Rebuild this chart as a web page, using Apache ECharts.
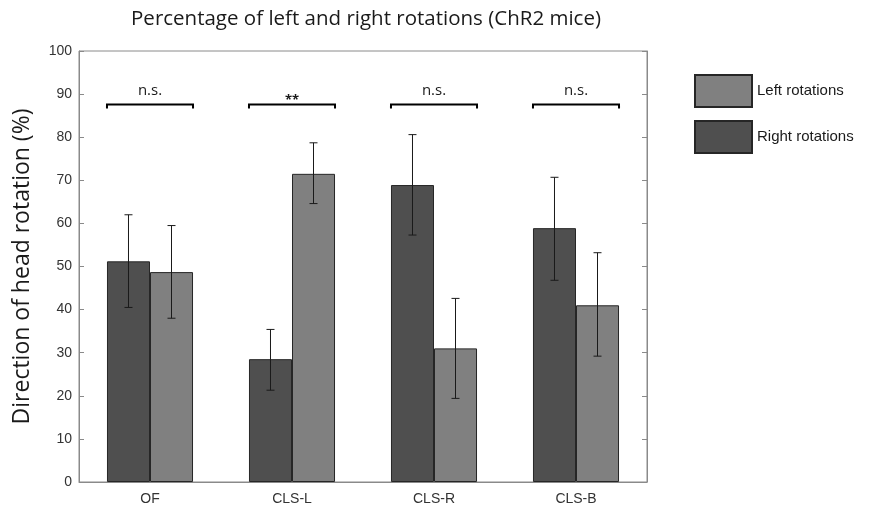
<!DOCTYPE html>
<html>
<head>
<meta charset="utf-8">
<script src="https://cdn.jsdelivr.net/npm/echarts@6/dist/echarts.min.js"></script>
<style>
  html, body { margin: 0; padding: 0; background: #fff; }
  #chart { width: 869px; height: 506px; }
</style>
</head>
<body>
<div id="chart"></div>
<script>
var categories = ['OF', 'CLS-L', 'CLS-R', 'CLS-B'];
var rightVals = [51.2, 28.5, 68.9, 58.9];
var rightLow  = [40.5, 21.3, 57.3, 46.8];
var rightHigh = [62.0, 35.4, 80.6, 70.7];
var leftVals  = [48.7, 71.5, 31.0, 41.0];
var leftLow   = [38.0, 64.6, 19.4, 29.2];
var leftHigh  = [59.5, 78.7, 42.6, 53.2];
var sigLevel  = [87.6, 87.6, 87.6, 87.6];
var sigLabels = ['n.s.', '**', 'n.s.', 'n.s.'];

var GAP = 0.394; // barCategoryGap fraction

function errData(low, high) {
    var d = [];
    for (var i = 0; i < categories.length; i++) {
        d.push([i, low[i], high[i]]);
    }
    return d;
}

function errRender(side) {
    return function (params, api) {
        var band = api.size([1, 0])[0];
        var barW = band * (1 - GAP) / 2;
        var lo = api.coord([api.value(0), api.value(1)]);
        var hi = api.coord([api.value(0), api.value(2)]);
        var x = lo[0] + side * barW / 2;
        var cap = 4;
        var st = { stroke: '#1a1a1a', lineWidth: 1 };
        return {
            type: 'group',
            children: [
                { type: 'line', shape: { x1: x, y1: lo[1], x2: x, y2: hi[1] }, style: st },
                { type: 'line', shape: { x1: x - cap, y1: lo[1], x2: x + cap, y2: lo[1] }, style: st },
                { type: 'line', shape: { x1: x - cap, y1: hi[1], x2: x + cap, y2: hi[1] }, style: st }
            ]
        };
    };
}

var sigData = [];
for (var i = 0; i < categories.length; i++) {
    sigData.push([i, sigLevel[i]]);
}

var myChart = echarts.init(document.getElementById('chart'));
var option = {
    backgroundColor: '#fff',
    animation: false,
    title: {
        text: 'Percentage of left and right rotations (ChR2 mice)',
        left: 361,
        top: 4,
        textAlign: 'center',
        textStyle: { fontFamily: 'Open Sans', fontSize: 20.5, fontWeight: 'normal', color: '#1a1a1a' }
    },
    legend: {
        data: ['Left rotations', 'Right rotations'],
        orient: 'vertical',
        left: 689,
        top: 69,
        itemWidth: 57,
        itemHeight: 32,
        itemGap: 12,
        icon: 'rect',
        textStyle: { fontFamily: 'Liberation Sans', fontSize: 15, color: '#1a1a1a' }
    },
    grid: {
        left: 79, right: 222, top: 51, bottom: 23,
        show: true, borderColor: '#8a8a8a', borderWidth: 1
    },
    xAxis: {
        type: 'category',
        data: categories,
        axisLine: { lineStyle: { color: '#8a8a8a' } },
        axisTick: { inside: true, length: 5, lineStyle: { color: '#8a8a8a' } },
        axisLabel: { margin: 10, fontFamily: 'Liberation Sans', fontSize: 14, color: '#333' }
    },
    yAxis: [{
        type: 'value',
        min: 0, max: 100, interval: 10,
        name: 'Direction of head rotation (%)',
        nameLocation: 'middle',
        nameGap: 45,
        nameTextStyle: { fontFamily: 'Open Sans', fontSize: 23, color: '#1a1a1a' },
        axisLine: { show: true, lineStyle: { color: '#8a8a8a' } },
        axisTick: { show: true, inside: true, length: 5, lineStyle: { color: '#8a8a8a' } },
        axisLabel: { margin: 7, fontFamily: 'Liberation Sans', fontSize: 14, color: '#333' },
        splitLine: { show: false }
    }, {
        type: 'value',
        min: 0, max: 100, interval: 10,
        position: 'right',
        axisLine: { show: true, lineStyle: { color: '#8a8a8a' } },
        axisTick: { show: true, inside: true, length: 5, lineStyle: { color: '#8a8a8a' } },
        axisLabel: { show: false },
        splitLine: { show: false }
    }],
    series: [{
        name: 'Right rotations',
        type: 'bar',
        data: rightVals,
        barGap: '0%',
        barCategoryGap: (GAP * 100) + '%',
        itemStyle: { color: '#4f4f4f', borderColor: '#262626', borderWidth: 1 }
    }, {
        name: 'Left rotations',
        type: 'bar',
        data: leftVals,
        itemStyle: { color: '#808080', borderColor: '#262626', borderWidth: 1 }
    }, {
        type: 'custom',
        data: errData(rightLow, rightHigh),
        renderItem: errRender(-1),
        z: 5,
        silent: true
    }, {
        type: 'custom',
        data: errData(leftLow, leftHigh),
        renderItem: errRender(1),
        z: 5,
        silent: true
    }, {
        type: 'custom',
        data: sigData,
        z: 5,
        silent: true,
        renderItem: function (params, api) {
            var band = api.size([1, 0])[0];
            var half = band * (1 - GAP) / 2;
            var p = api.coord([api.value(0), api.value(1)]);
            var label = sigLabels[params.dataIndex];
            var isStar = label.indexOf('*') >= 0;
            return {
                type: 'group',
                children: [
                    { type: 'polyline', shape: { points: [[p[0] - half, p[1] + 4], [p[0] - half, p[1]], [p[0] + half, p[1]], [p[0] + half, p[1] + 4]] }, style: { stroke: '#000', lineWidth: 2, fill: null } },
                    { type: 'text', x: p[0], y: isStar ? p[1] + 2 : p[1] - 6,
                      style: { text: label, align: 'center', verticalAlign: 'bottom',
                               fontFamily: 'Open Sans', fontSize: isStar ? 13 : 15, fontWeight: isStar ? 'bold' : 'normal', fill: '#1a1a1a' } }
                ]
            };
        }
    }]
};
myChart.setOption(option);
</script>
</body>
</html>
